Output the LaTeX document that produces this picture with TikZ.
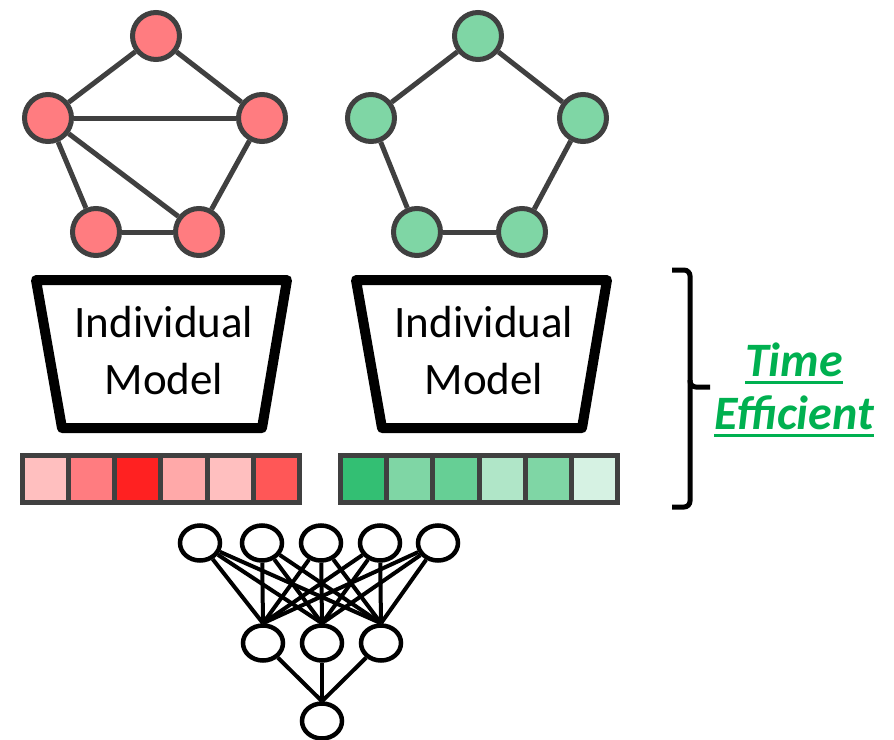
\documentclass[tikz,border=0pt]{standalone}
\usepackage{fontspec}
\setmainfont{Carlito}
\usetikzlibrary{shapes.geometric}

\definecolor{edgegray}{HTML}{404040}
\definecolor{nodered}{HTML}{FF7C80}
\definecolor{nodegreen}{HTML}{7FD6A5}
\definecolor{timegreen}{HTML}{00B050}
\definecolor{redA}{HTML}{FFBFBF}
\definecolor{redB}{HTML}{FF7C80}
\definecolor{redC}{HTML}{FF2121}
\definecolor{redD}{HTML}{FFA9A9}
\definecolor{redE}{HTML}{FF5757}
\definecolor{greenA}{HTML}{33BF73}
\definecolor{greenB}{HTML}{7FD6A5}
\definecolor{greenC}{HTML}{66CF95}
\definecolor{greenD}{HTML}{B0E6C8}
\definecolor{greenE}{HTML}{D6F2E3}

% underline with a thick rule
\newcommand{\ulword}[1]{\setbox0\hbox{#1}\rlap{\rule[-7.5pt]{\wd0}{3pt}}\box0}

\tikzset{
  gnode/.style={circle, draw=edgegray, line width=5pt, minimum size=47pt, inner sep=0pt},
  gedge/.style={draw=edgegray, line width=5pt},
  cell/.style={rectangle, draw=edgegray, line width=5pt, minimum width=46.2pt, minimum height=47pt, inner sep=0pt},
  encoder/.style={line width=10pt, line join=round},
  modeltext/.style={align=center, inner sep=0pt, font=\fontsize{45}{57}\selectfont},
  neuron/.style={ellipse, draw, line width=4.5pt, minimum width=40pt, minimum height=35pt, inner sep=0pt},
  synapse/.style={line width=4pt},
}

\begin{document}
\begin{tikzpicture}[x=1pt, y=-1pt]
      \useasboundingbox (0,0) rectangle (894,739);
      \def\cellw{46.17}
      \def\shift{318}

      % graphs
      \node[gnode, fill=nodered] (r1) at (156,36) {};
      \node[gnode, fill=nodered] (r2) at (48,118) {};
      \node[gnode, fill=nodered] (r3) at (262,118) {};
      \node[gnode, fill=nodered] (r4) at (96,232) {};
      \node[gnode, fill=nodered] (r5) at (199,232) {};
      \foreach \a/\b in {r1/r2, r1/r3, r2/r3, r2/r4, r2/r5, r4/r5, r3/r5} {
        \draw[gedge] (\a) -- (\b);
      }

      \node[gnode, fill=nodegreen] (g1) at (478,36) {};
      \node[gnode, fill=nodegreen] (g2) at (371,118) {};
      \node[gnode, fill=nodegreen] (g3) at (583,118) {};
      \node[gnode, fill=nodegreen] (g4) at (417,232) {};
      \node[gnode, fill=nodegreen] (g5) at (522,232) {};
      \foreach \a/\b in {g1/g2, g1/g3, g2/g4, g4/g5, g3/g5} {
        \draw[gedge] (\a) -- (\b);
      }

      % encoders
      \foreach \dx/\nm in {0/redmodel, 320/greenmodel} {
        \draw[encoder] (36+\dx,280) -- (287+\dx,280) -- (262+\dx,428) -- (62+\dx,428) -- cycle;
        \node[modeltext] (\nm) at (164+\dx,351) {Individual\\Model};
      }

      % embeddings
      \foreach \col [count=\i from 0] in {redA, redB, redC, redD, redA, redE} {
        \node[cell, fill=\col] (rc\i) at (22.5+\cellw*\i+\cellw/2, 479) {};
      }
      \foreach \col [count=\i from 0] in {greenA, greenB, greenC, greenD, greenB, greenE} {
        \node[cell, fill=\col] (gc\i) at (22.5+\shift+\cellw*\i+\cellw/2, 479) {};
      }

      % classifier
      \foreach \x [count=\i] in {200, 262, 321, 380, 438} {
        \node[neuron] (t\i) at (\x,543) {};
      }
      \foreach \x [count=\j] in {263, 322, 381} {
        \node[neuron] (h\j) at (\x,643) {};
      }
      \node[neuron] (o) at (322,721) {};
      \foreach \i in {1,...,5} {
        \foreach \j in {1,2,3} {
          \draw[synapse] (t\i) -- (h\j.north);
        }
      }
      \foreach \j in {1,2,3} {
        \draw[synapse] (h\j) -- (o.north);
      }

      % brace
      \draw[line width=5pt, rounded corners=6pt] (672,270) -- (690,270) -- (690,387) -- (710,387);
      \draw[line width=5pt, rounded corners=6pt] (690,380) -- (690,507) -- (672,507);
      \node[align=center, inner sep=0pt, text=timegreen, font=\fontsize{48}{53}\selectfont\bfseries\itshape] (gain) at (794,390) {\ulword{Time}\\\ulword{Efficient}};
    \end{tikzpicture}
\end{document}
